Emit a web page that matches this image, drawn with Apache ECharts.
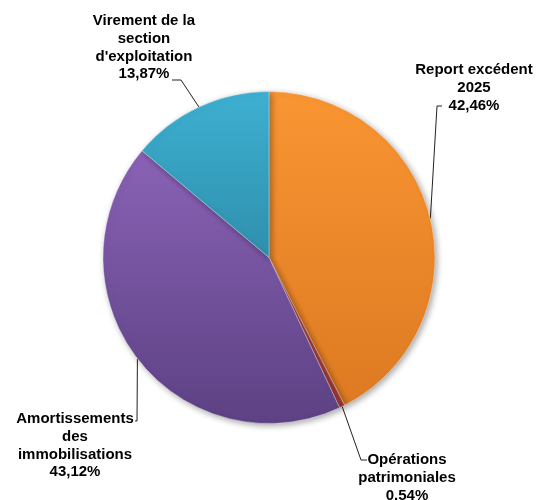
<!DOCTYPE html>
<html>
<head>
<meta charset="utf-8">
<script src="https://cdn.jsdelivr.net/npm/echarts@6/dist/echarts.min.js"></script>
<style>
html,body{margin:0;padding:0;background:#fff;}
#chart{width:548px;height:500px;}
</style>
</head>
<body>
<div id="chart"></div>
<script>
var categories = ["Report excédent\n2025", "Opérations\npatrimoniales", "Amortissements\ndes\nimmobilisations", "Virement de la\nsection\nd'exploitation"];
var values = [42.46, 0.54, 43.12, 13.87];
var percentLabels = ["42,46%", "0.54%", "43,12%", "13,87%"];

var colorStops = [
  ["#F99532", "#DD7A22"],
  ["#D0504A", "#A83A35"],
  ["#8A62B6", "#5C4183"],
  ["#3EB0D2", "#2E8FAC"]
];

// label layout (positions only)
var labelPos = [
  {x: 474, y: 61, bend: [437, 106], end: [442, 106]},
  {x: 407, y: 451, bend: [361, 460], end: [367, 460]},
  {x: 75, y: 410, bend: [137, 421], end: [135, 421]},
  {x: 144, y: 12, bend: [181, 80], end: [172, 80]}
];

var cx = 269, cy = 257.5, R = 166;

var data = categories.map(function (c, i) {
  return {
    name: c,
    value: values[i],
    itemStyle: {
      color: {
        type: 'linear', x: 0, y: 0, x2: 0, y2: 1,
        colorStops: [{offset: 0, color: colorStops[i][0]}, {offset: 1, color: colorStops[i][1]}]
      }
    }
  };
});

var total = values.reduce(function (a, b) { return a + b; }, 0);
function edgePoint(i) {
  var acc = 0;
  for (var k = 0; k < i; k++) acc += values[k];
  var mid = (acc + values[i] / 2) / total * 2 * Math.PI;
  return [cx + R * Math.sin(mid), cy - R * Math.cos(mid)];
}

var chart = echarts.init(document.getElementById('chart'));
chart.setOption({
  backgroundColor: '#fff',
  animation: false,
  series: [{
    type: 'pie',
    center: [cx, cy],
    radius: R,
    startAngle: 90,
    clockwise: true,
    data: data,
    itemStyle: {
      borderColor: 'rgba(255,255,255,0.35)',
      borderWidth: 1,
      shadowBlur: 6,
      shadowOffsetX: 2,
      shadowOffsetY: 2,
      shadowColor: 'rgba(0,0,0,0.35)'
    },
    label: {
      show: true,
      formatter: function (p) { return p.name + '\n' + percentLabels[p.dataIndex]; },
      fontFamily: '"Liberation Sans", Arial, sans-serif',
      fontWeight: 'bold',
      fontSize: 15,
      lineHeight: 17.8,
      color: '#000',
      align: 'center',
      overflow: 'none'
    },
    labelLine: {
      show: true,
      lineStyle: {color: '#222', width: 1}
    },
    labelLayout: function (params) {
      var i = params.dataIndex;
      var lp = labelPos[i];
      var start = edgePoint(i);
      return {
        x: lp.x,
        y: lp.y,
        width: 200,
        align: 'center',
        verticalAlign: 'top',
        labelLinePoints: [start, lp.bend, lp.end]
      };
    }
  }]
});
</script>
</body>
</html>
